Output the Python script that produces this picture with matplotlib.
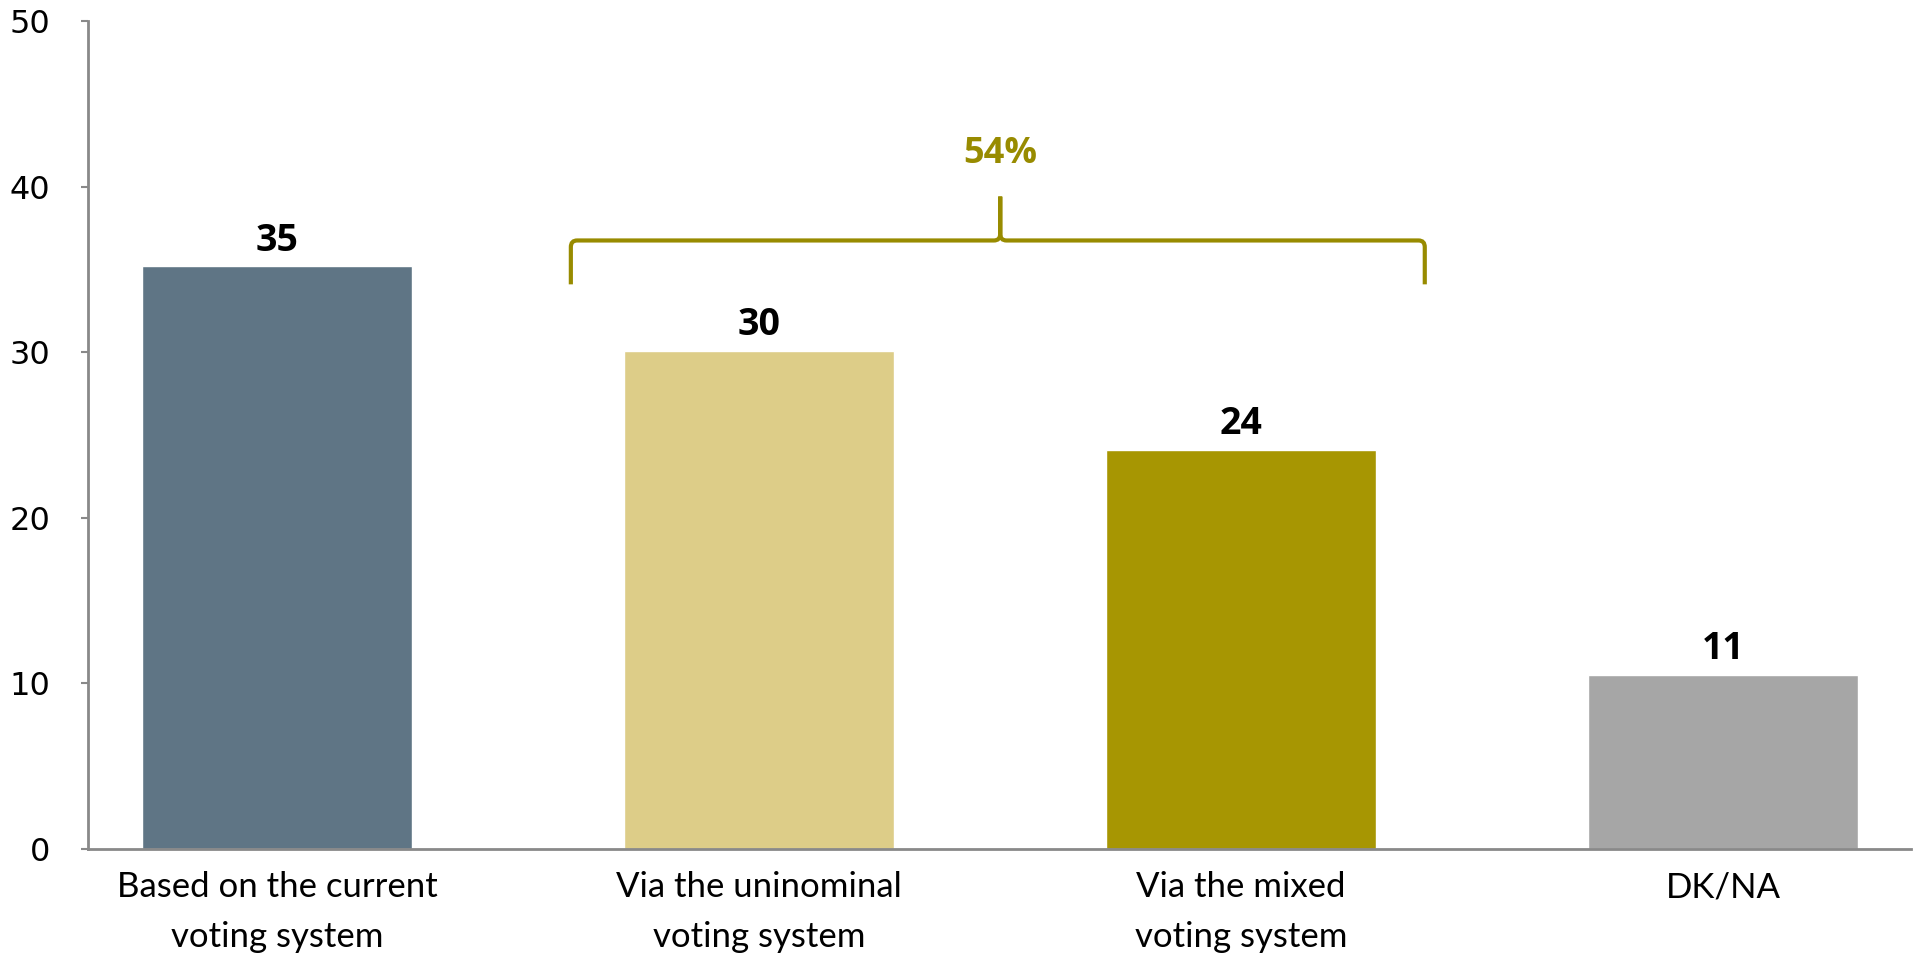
import matplotlib.pyplot as plt
from matplotlib.path import Path
from matplotlib.patches import PathPatch

categories = ["Based on the current\nvoting system", "Via the uninominal\nvoting system",
              "Via the mixed\nvoting system", "DK/NA"]
values = [35.2, 30.1, 24.1, 10.5]
value_labels = ["35", "30", "24", "11"]
colors = ["#5F7585", "#DDCD88", "#A79602", "#A6A6A6"]
group_label = "54%"

axis_grey = "#898989"
olive = "#988B00"

fig = plt.figure(figsize=(19.21, 9.58), dpi=100)
ax = fig.add_axes([0.0458, 0.1138, 0.949, 0.8642])

x = range(len(categories))
ax.bar(x, values, width=0.56, color=colors, edgecolor="white", linewidth=1)

for i, v in enumerate(values):
    ax.text(i, v + 0.4, value_labels[i], ha="center", va="bottom",
            fontsize=27, fontweight="bold", family="Open Sans")

# curly brace over the two reform options
yb, ylo, ytip = 36.75, 34.1, 39.4
xl, xr, xc = 0.609, 2.381, 1.5
rx, ry = 0.013, 0.4
verts = [(xl, ylo), (xl, yb - ry), (xl, yb), (xl + rx, yb),
         (xc - rx, yb), (xc, yb), (xc, yb + ry), (xc, ytip),
         (xc, yb + ry), (xc, yb), (xc + rx, yb),
         (xr - rx, yb), (xr, yb), (xr, yb - ry), (xr, ylo)]
codes = [Path.MOVETO, Path.LINETO, Path.CURVE3, Path.CURVE3,
         Path.LINETO, Path.CURVE3, Path.CURVE3, Path.LINETO,
         Path.LINETO, Path.CURVE3, Path.CURVE3,
         Path.LINETO, Path.CURVE3, Path.CURVE3, Path.LINETO]
ax.add_patch(PathPatch(Path(verts, codes), fill=False, edgecolor=olive, lw=3,
                       capstyle="butt", clip_on=False))
ax.text(xc, 40.9, group_label, ha="center", va="bottom", color=olive,
        fontsize=26, fontweight="bold", family="Open Sans")

ax.set_xlim(-0.393, 3.39)
ax.set_ylim(0, 50)
ax.set_yticks([0, 10, 20, 30, 40, 50])
ax.set_xticks(list(x))
ax.set_xticklabels(categories, family="Lato", fontsize=25, linespacing=1.7)

for s in ["top", "right"]:
    ax.spines[s].set_visible(False)
for s in ["left", "bottom"]:
    ax.spines[s].set_color(axis_grey)
    ax.spines[s].set_linewidth(2)

ax.tick_params(axis="y", direction="out", length=5, width=1.5, color=axis_grey,
               labelsize=23, pad=22)
ax.tick_params(axis="x", length=0, pad=16)

plt.savefig("out.png", dpi=100)
